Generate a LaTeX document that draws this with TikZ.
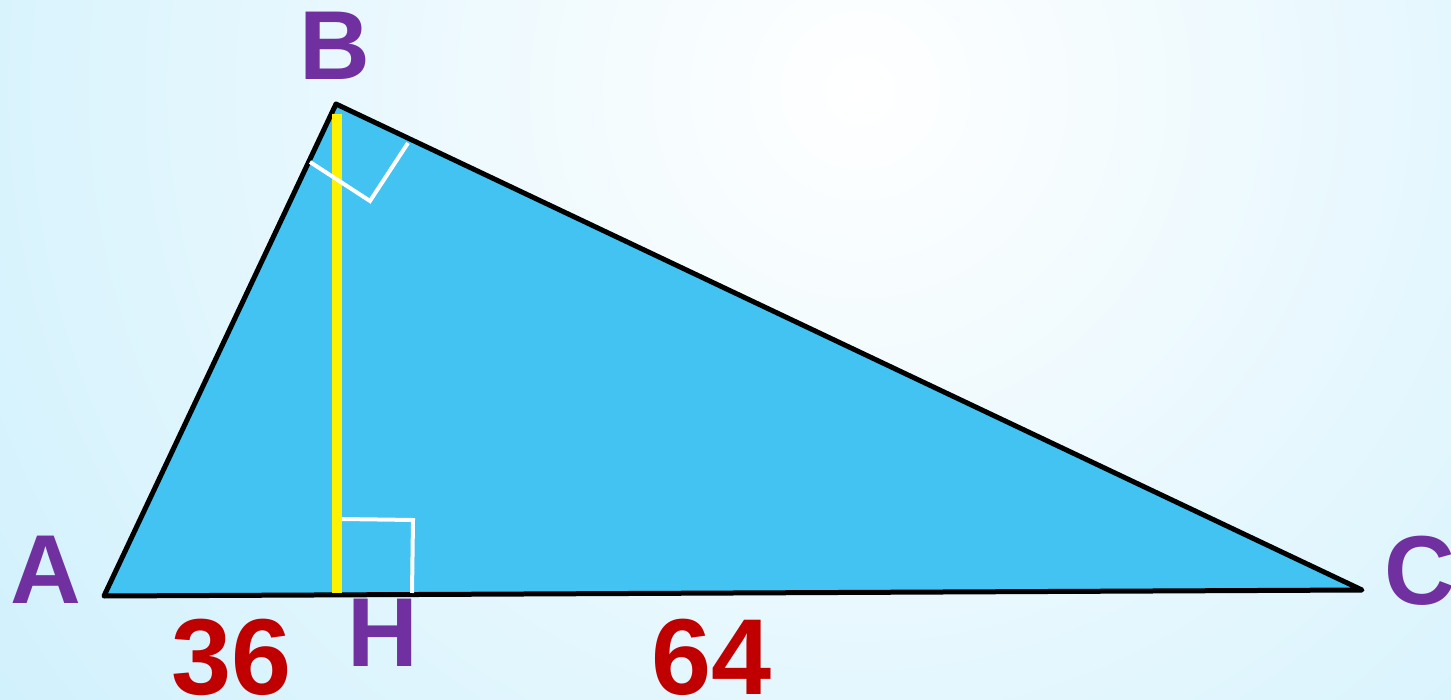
\documentclass[tikz,border=0pt]{standalone}
\usepackage{fontspec}
\setmainfont{Liberation Sans}
\usepackage{tikz}
\usetikzlibrary{calc}
\definecolor{skyfill}{RGB}{66,195,242}
\definecolor{vertpurple}{RGB}{112,48,160}
\definecolor{segred}{RGB}{192,0,0}
\definecolor{bgblue}{RGB}{200,238,252}
\begin{document}
\begin{tikzpicture}[
        x=1pt, y=-1pt,
        side/.style={line width=5pt, line join=round},
        alt/.style={line width=10pt, yellow},
        rmark/.style={line width=4pt, white},
        vlbl/.style={font=\bfseries\fontsize{98}{100}\selectfont, text=vertpurple, inner sep=0pt},
        nlbl/.style={font=\bfseries\fontsize{108}{110}\selectfont, text=segred, inner sep=0pt}
    ]
        % -- background --
        \useasboundingbox (0,0) rectangle (1451,700);
        \begin{scope}
            \clip (0,0) rectangle (1451,700);
            \shade[inner color=white, outer color=bgblue] (860,90) circle (1250);
        \end{scope}

        % -- vertices --
        \coordinate (A) at (104,596);
        \coordinate (B) at (336,104);
        \coordinate (C) at (1362,590);
        \coordinate (H) at (337,593);
        \coordinate (Htop) at (337,114);

        % triangle
        \filldraw[side, fill=skyfill] (A) -- (B) -- (C) -- cycle;

        % altitude BH
        \draw[alt] (Htop) -- (H);

        % right angle marks
        \draw[rmark] (342,519) -- (413,520) -- (412,593);
        \draw[rmark] (310,162) -- (370,201) -- (408,143);

        % -- labels --
        \node[vlbl] (lA) at (46,570)   {A};
        \node[vlbl] (lB) at (335,46)   {B};
        \node[vlbl] (lC) at (1420,571) {C};
        \node[vlbl] (lH) at (383,633)  {H};
        \node[nlbl] (l36) at (232,657) {36};
        \node[nlbl] (l64) at (712,657) {64};
    \end{tikzpicture}
\end{document}
